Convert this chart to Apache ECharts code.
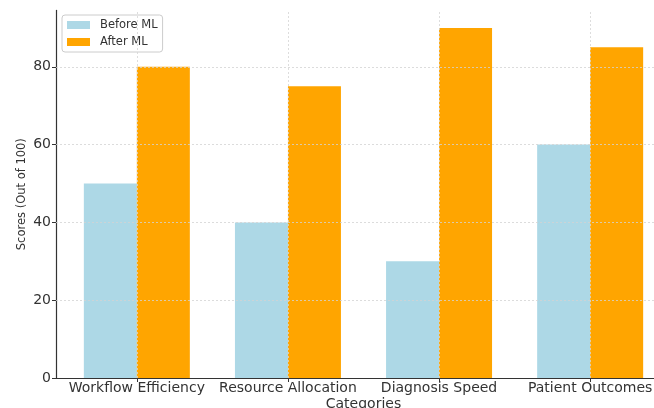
<!DOCTYPE html>
<html>
<head>
<meta charset="utf-8">
<script src="https://cdn.jsdelivr.net/npm/echarts@6/dist/echarts.min.js"></script>
<style>
  html, body { margin: 0; padding: 0; background: #fff; }
  #chart { width: 654px; height: 408px; }
</style>
</head>
<body>
<div id="chart"></div>
<script>
// Scores before and after introducing machine learning, per category
const categories = ['Workflow Efficiency', 'Resource Allocation', 'Diagnosis Speed', 'Patient Outcomes'];
const beforeML = [50, 40, 30, 60];
const afterML = [80, 75, 90, 85];
const yTicks = [0, 20, 40, 60, 80];
const categoryPositions = categories.map((_, i) => i);

const FONT = 'DejaVu Sans';
const GRID_COLOR = '#d4d4d4';
const AXIS_COLOR = '#333333';

const chart = echarts.init(document.getElementById('chart'), null, { renderer: 'canvas' });

chart.setOption({
  animation: false,
  backgroundColor: '#ffffff',
  textStyle: { fontFamily: FONT },
  grid: { left: 56, width: 615, top: 10.4, height: 367.6, containLabel: false, outerBoundsMode: 'none' },
  legend: {
    orient: 'vertical',
    left: 62,
    top: 15,
    padding: [4, 5, 4, 5],
    itemGap: 5,
    itemWidth: 23,
    itemHeight: 8,
    icon: 'rect',
    backgroundColor: 'rgba(255,255,255,0.8)',
    borderColor: '#cccccc',
    borderWidth: 1,
    borderRadius: 3,
    textStyle: { fontFamily: FONT, fontSize: 11.5, color: '#333', padding: [0, 0, 0, 5] },
    data: ['Before ML', 'After ML']
  },
  xAxis: {
    type: 'value',
    min: -0.535,
    max: 3.535,
    name: 'Categories',
    nameLocation: 'middle',
    nameGap: 19,
    nameMoveOverlap: false,
    nameTextStyle: { fontFamily: FONT, fontSize: 14, color: '#333' },
    axisLine: { show: true, onZero: false, lineStyle: { color: AXIS_COLOR, width: 1.2 } },
    axisTick: { show: true, length: 4, inside: false, customValues: categoryPositions, lineStyle: { color: AXIS_COLOR } },
    axisLabel: {
      customValues: categoryPositions,
      margin: 3,
      fontFamily: FONT,
      fontSize: 14,
      color: '#333',
      formatter: v => categories[Math.round(v)] || ''
    },
    splitLine: { show: false }
  },
  yAxis: {
    type: 'value',
    min: 0,
    max: 94.5,
    name: 'Scores (Out of 100)',
    nameLocation: 'middle',
    nameGap: 28,
    nameMoveOverlap: false,
    nameRotate: 90,
    nameTextStyle: { fontFamily: FONT, fontSize: 11.5, color: '#333' },
    axisLine: { show: true, onZero: false, lineStyle: { color: AXIS_COLOR, width: 1.2 } },
    axisTick: { show: true, length: 4, customValues: yTicks, lineStyle: { color: AXIS_COLOR } },
    axisLabel: { customValues: yTicks, margin: 5, fontFamily: FONT, fontSize: 14, color: '#333' },
    splitLine: { show: false }
  },
  series: [
    {
      // dotted grid drawn beneath the bars
      name: 'grid',
      type: 'line',
      data: [],
      z: 1,
      silent: true,
      markLine: {
        silent: true,
        symbol: 'none',
        label: { show: false },
        lineStyle: { color: GRID_COLOR, type: [2, 2], width: 0.8 },
        data: categoryPositions.map(p => ({ xAxis: p })).concat(yTicks.slice(1).map(t => ({ yAxis: t })))
      }
    },
    {
      name: 'Before ML',
      type: 'bar',
      barWidth: 53,
      barGap: '0%',
      itemStyle: { color: '#ADD8E6' },
      data: beforeML.map((v, i) => [i, v]),
      z: 3
    },
    {
      name: 'After ML',
      type: 'bar',
      barWidth: 53,
      barGap: '0%',
      itemStyle: { color: '#FFA500' },
      data: afterML.map((v, i) => [i, v]),
      z: 3
    }
  ]
});
</script>
</body>
</html>
